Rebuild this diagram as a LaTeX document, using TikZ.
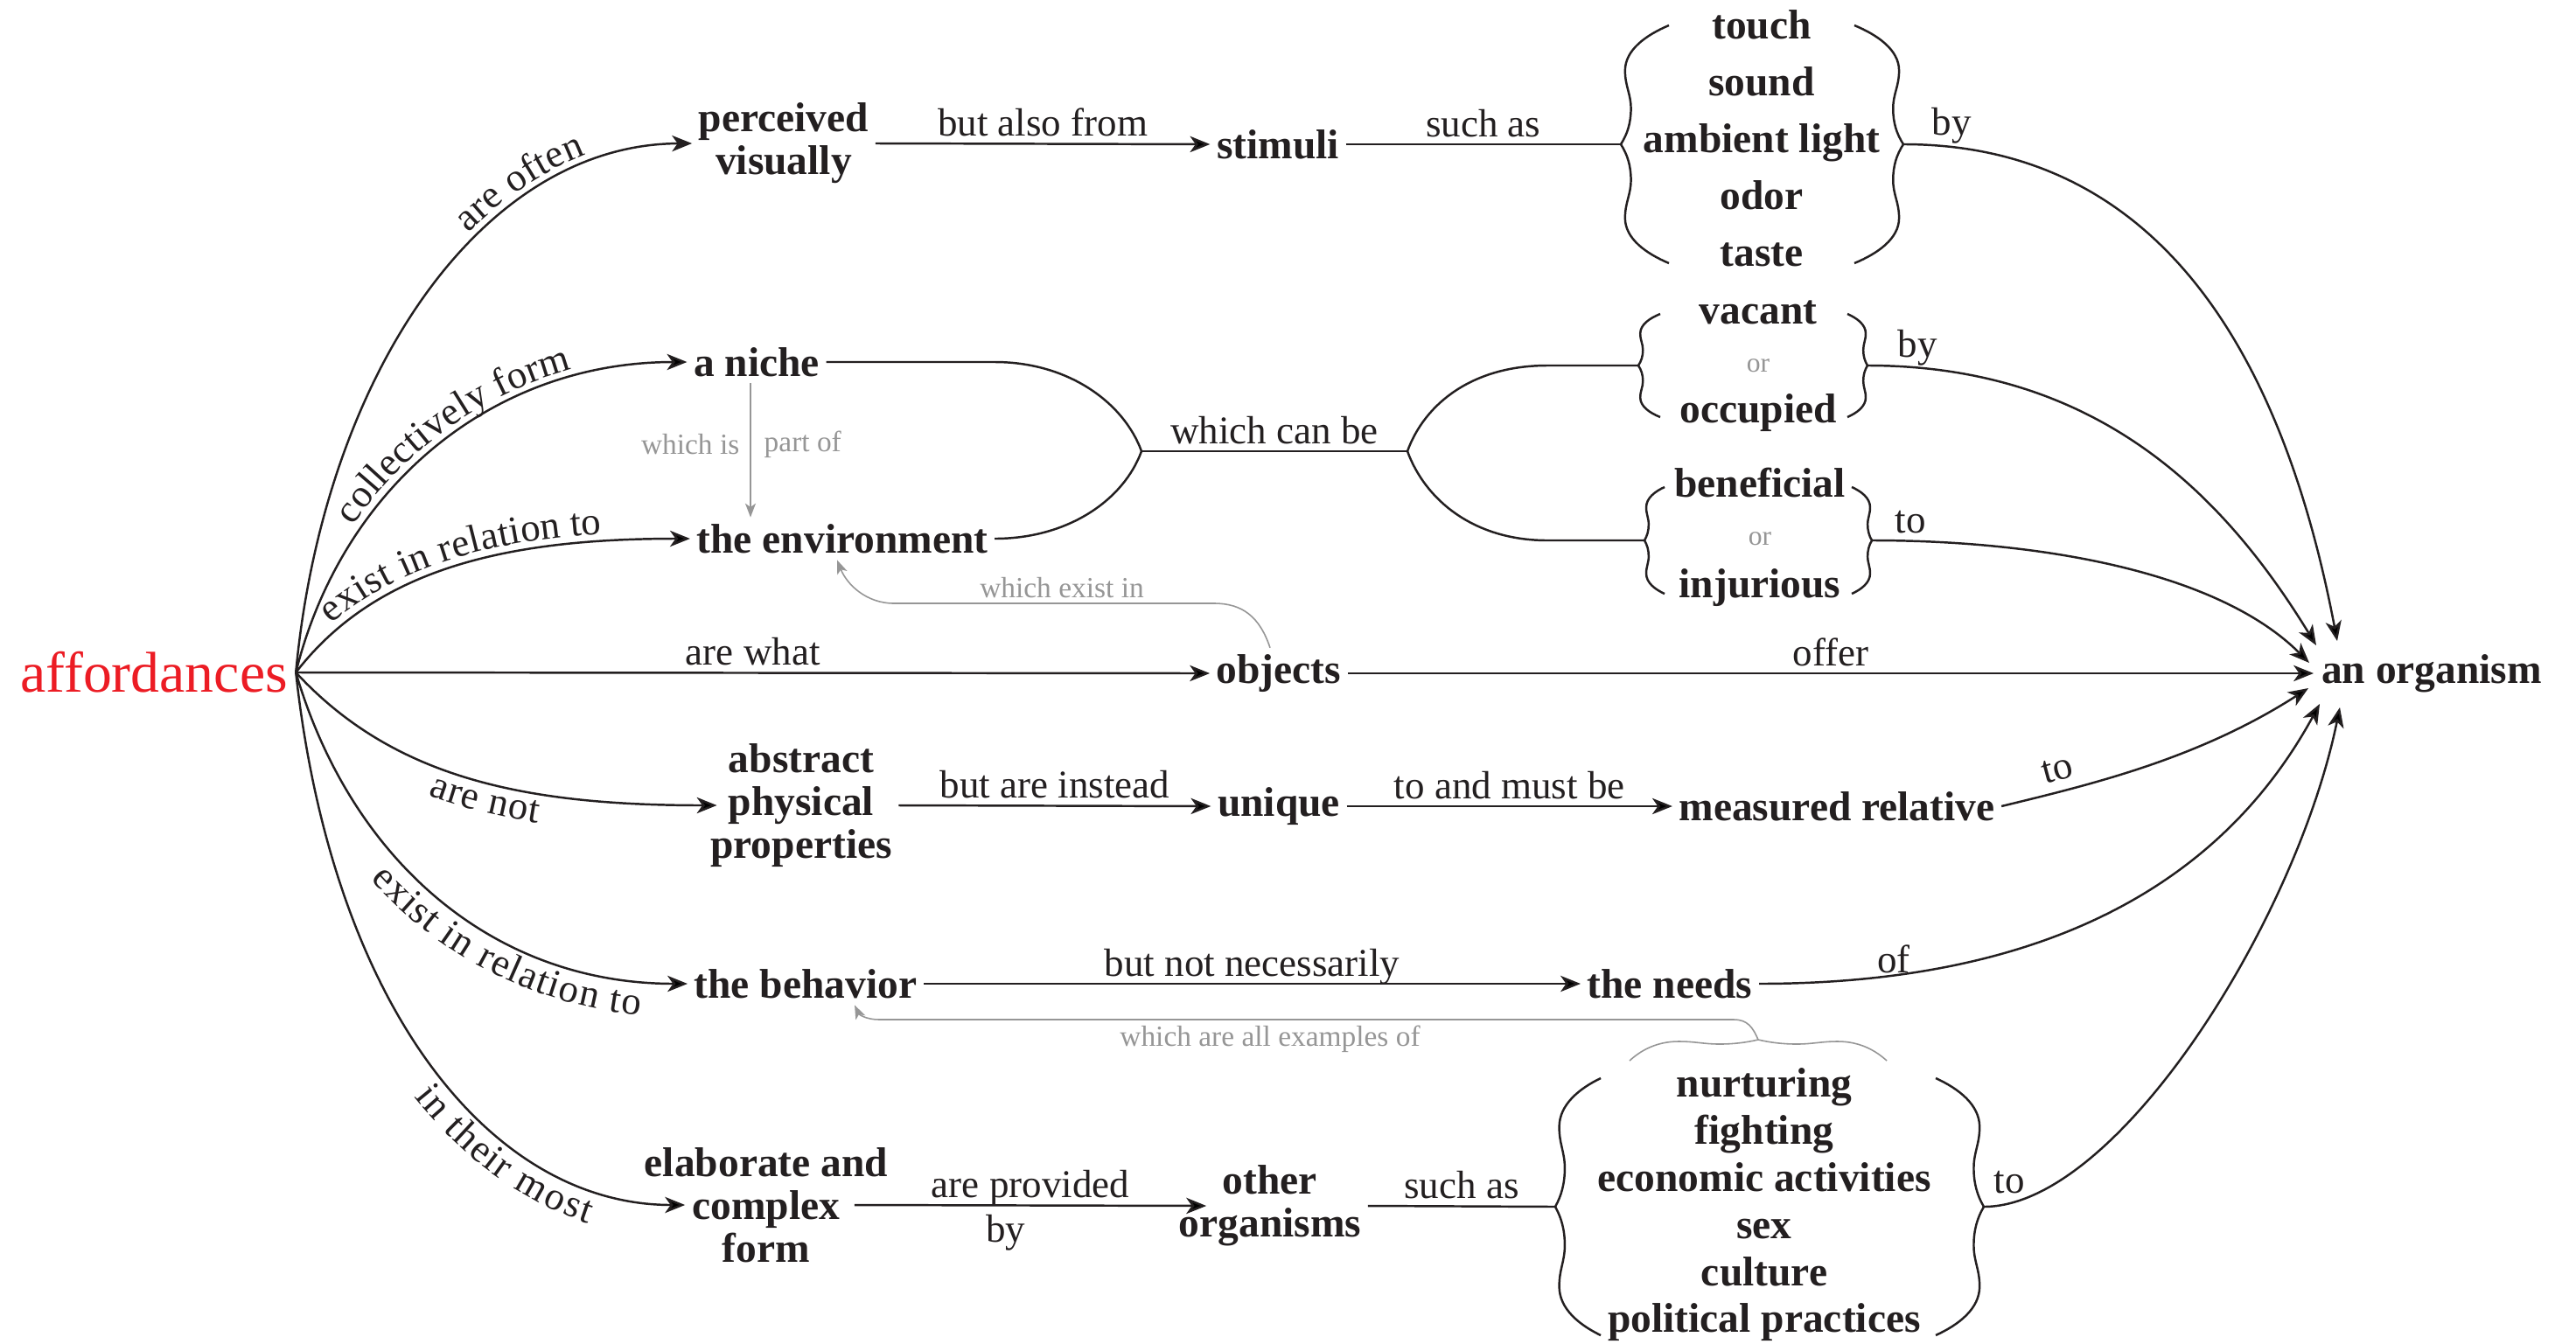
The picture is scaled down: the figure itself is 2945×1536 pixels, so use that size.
\documentclass[tikz,border=0pt]{standalone}
\usepackage{fontspec}
\setmainfont{Liberation Serif}
\usetikzlibrary{arrows.meta,decorations.text}

\definecolor{ink}{RGB}{35,31,32}
\definecolor{softgray}{RGB}{150,150,150}
\definecolor{keyred}{RGB}{236,28,36}

\newcommand\lblfont{\fontsize{12.8}{14}\selectfont}
\newcommand\conceptfont{\fontsize{13.5}{14}\selectfont\bfseries}

% one half of a curly brace: tip at (#1,#2), depth #3 (negative opens leftwards), half height #4 (negative = lower half)
\newcommand\halfbrace[4]{%
  \draw[bracestroke, shift={(#1,#2)}, xscale=#3, yscale=#4]
    (0,0) .. controls (0.14,-0.088) and (0.21,-0.184) .. (0.21,-0.30)
          .. controls (0.21,-0.426) and (0.088,-0.485) .. (0.088,-0.62)
          .. controls (0.088,-0.794) and (0.526,-0.919) .. (1,-1);}
\newcommand\curlybrace[4]{\halfbrace{#1}{#2}{#3}{#4}\halfbrace{#1}{#2}{#3}{-#4}}

\begin{document}
\begin{tikzpicture}[x=0.01cm, y=-0.01cm,
  inkline/.style={draw=ink, line width=0.7pt},
  bracestroke/.style={inkline},
  arrowline/.style={inkline, -{Stealth[length=6.5pt,width=5.2pt,inset=1.8pt]}},
  faintarrow/.style={draw=softgray, line width=0.45pt, -{Stealth[length=4.5pt,width=3.4pt,inset=1.2pt]}},
  faintline/.style={draw=softgray, line width=0.45pt},
  concept/.style={font=\conceptfont, text=ink, inner sep=2pt, align=center},
  listitem/.style={font=\conceptfont, text=ink, inner sep=0pt, anchor=base},
  orword/.style={font=\fontsize{9}{10}\selectfont, text=softgray, inner sep=0pt, anchor=base},
  linklabel/.style={font=\lblfont, text=ink, inner sep=0pt, anchor=base, yshift=2.5pt},
  linklabelbelow/.style={font=\lblfont, text=ink, inner sep=0pt, anchor=base, yshift=-12pt},
  sidelabel/.style={font=\lblfont, text=ink, inner sep=0pt},
  graynote/.style={font=\fontsize{9.5}{11}\selectfont, text=softgray, inner sep=0pt},
]
\path[use as bounding box, fill=white] (0,0) rectangle (2945,1536);

% ---------- concepts ----------
\node[font=\fontsize{18.7}{20}\selectfont, text=keyred, inner sep=0pt, inner xsep=2.5pt] (aff) at (176,769) {affordances};
\node[concept] (perc) at (896,164) {perceived\\visually};
\node[concept] (stim) at (1461,165) {stimuli};
\node[concept, font=\fontsize{13.5}{18.5}\selectfont\bfseries] (senses) at (2014,158) {touch\\sound\\ambient light\\odor\\taste};
\node[listitem] (vac) at (2010,370) {vacant};
\node[orword] (or1) at (2010,425) {or};
\node[listitem] (occ) at (2010,483) {occupied};
\node[listitem] (ben) at (2012,568) {beneficial};
\node[orword] (or2) at (2012,623) {or};
\node[listitem] (inj) at (2012,683) {injurious};
\node[concept] (niche) at (865,414) {a niche};
\node[concept] (env) at (963,616) {the environment};
\node[concept] (obj) at (1462,770) {objects};
\node[concept] (org) at (2780,770) {an organism};
\node[concept] (abs) at (916,921) {abstract\\physical\\properties};
\node[concept] (uniq) at (1462,922) {unique};
\node[concept] (meas) at (2100,922) {measured relative};
\node[concept] (behav) at (921,1125) {the behavior};
\node[concept] (needs) at (1909,1125) {the needs};
\node[concept] (elab) at (876,1378) {elaborate and\\complex\\form};
\node[concept] (other) at (1452,1379) {other\\organisms};
\node[concept, font=\fontsize{13.5}{15.3}\selectfont\bfseries] (acts) at (2017,1378) {nurturing\\fighting\\economic activities\\sex\\culture\\political practices};

% ---------- brace tips, fork points and arrival points ----------
\coordinate (b1l) at (1853,165); \coordinate (b1r) at (2176,165);
\coordinate (b2l) at (1873,418); \coordinate (b2r) at (2135,418);
\coordinate (b3l) at (1880,618); \coordinate (b3r) at (2140,618);
\coordinate (b4l) at (1778,1380); \coordinate (b4r) at (2268,1380);
\coordinate (join) at (1305,516); \coordinate (split) at (1609,516);
\coordinate (in1) at (2672,733); \coordinate (in2) at (2648,738);
\coordinate (in3) at (2640,758); \coordinate (in4) at (2645,770);
\coordinate (in5) at (2639,787); \coordinate (in6) at (2652,805);
\coordinate (in7) at (2675,809);
\coordinate (gtip) at (2010,1189);

% ---------- braces ----------
\curlybrace{1853}{165}{55}{136}
\curlybrace{2176}{165}{-56}{136}
\curlybrace{1873}{418}{25}{59}
\curlybrace{2135}{418}{-23}{59}
\curlybrace{1880}{618}{23}{61}
\curlybrace{2140}{618}{-23}{61}
\curlybrace{1778}{1380}{52}{147}
\curlybrace{2268}{1380}{-55}{147}

% ---------- links leaving "affordances" ----------
\draw[arrowline] (aff.east) .. controls (370,430) and (550,165) .. (perc.west);
\path[decorate, decoration={text along path, text color=ink, text={|\lblfont|are often}, text align={right, right indent=1.2cm}, raise=3pt}]
  (aff.east) .. controls (370,430) and (550,165) .. (perc.west);

\draw[arrowline] (aff.east) .. controls (390,560) and (560,414) .. (niche.west);
\path[decorate, decoration={text along path, text color=ink, text={|\lblfont|collectively form}, text align={right, right indent=1.3cm}, raise=2.5pt}]
  (aff.east) .. controls (390,560) and (560,414) .. (niche.west);

\draw[arrowline] (aff.east) .. controls (430,650) and (580,616) .. (env.west);
\path[decorate, decoration={text along path, text color=ink, text={|\lblfont|exist in relation to}, text align={right, right indent=1.0cm}, raise=2.5pt}]
  (aff.east) .. controls (430,650) and (580,616) .. (env.west);

\draw[arrowline] (aff.east) -- node[linklabel, midway] {are what} (obj.west);

\draw[arrowline] (aff.east) .. controls (450,890) and (600,921) .. ([xshift=0.15cm]abs.west);
\path[decorate, decoration={text along path, text color=ink, text={|\lblfont|are not}, text align={right, right indent=2.0cm}, raise=-9.5pt}]
  (aff.east) .. controls (450,890) and (600,921) .. ([xshift=0.15cm]abs.west);

\draw[arrowline] (aff.east) .. controls (400,980) and (560,1125) .. (behav.west);
\path[decorate, decoration={text along path, text color=ink, text={|\lblfont|exist in relation to}, text align={right, right indent=0.5cm}, raise=-11pt}]
  (aff.east) .. controls (400,980) and (560,1125) .. (behav.west);

\draw[arrowline] (aff.east) .. controls (380,1150) and (560,1378) .. ([xshift=0.54cm]elab.west);
\path[decorate, decoration={text along path, text color=ink, text={|\lblfont|in their most}, text align={right, right indent=1.0cm}, raise=-11pt}]
  (aff.east) .. controls (380,1150) and (560,1378) .. ([xshift=0.54cm]elab.west);

% ---------- first row ----------
\draw[arrowline] (perc.east) -- node[linklabel, midway] {but also from} (stim.west);
\draw[inkline] (stim.east) -- node[linklabel, midway] {such as} (b1l);
\draw[arrowline] (b1r) .. controls (2500,165) and (2620,460) .. (in1);
\node[sidelabel] (by1) at (2231,144) {by};

% ---------- niche / environment fork ----------
\draw[inkline] (niche.east) -- (niche.east -| env.east) .. controls +(85,0) and +(-20,-55) .. (join);
\draw[inkline] (env.east) .. controls +(85,0) and +(-20,55) .. (join);
\draw[inkline] (join) -- node[linklabel, midway] {which can be} (split);
\draw[inkline] (split) .. controls +(20,-55) and +(-85,0) .. ++(160,-98) -- (b2l);
\draw[inkline] (split) .. controls +(20,55) and +(-85,0) .. ++(160,102) -- (b3l);
\draw[arrowline] (b2r) .. controls (2400,418) and (2544,568) .. (in2);
\draw[arrowline] (b3r) .. controls (2330,618) and (2535,653) .. (in3);
\node[sidelabel] (by2) at (2192,398) {by};
\node[sidelabel] (to1) at (2184,597) {to};

% ---------- objects ----------
\draw[arrowline] (obj.east) -- node[linklabel, midway] {offer} (in4);

% ---------- properties row ----------
\draw[arrowline] (abs.east) -- node[linklabel, midway] {but are instead} (uniq.west);
\draw[arrowline] (uniq.east) -- node[linklabel, midway] {to and must be} (meas.west);
\draw[arrowline] (meas.east) .. controls (2391,897) and (2513,868) .. (in5);
\node[sidelabel, rotate=15] (to2) at (2352,880) {to};

% ---------- behavior row ----------
\draw[arrowline] (behav.east) -- node[linklabel, midway] {but not necessarily} (needs.west);
\draw[arrowline] (needs.east) .. controls (2400,1125) and (2566,963) .. (in6);
\node[sidelabel] (of1) at (2165,1097) {of};

% ---------- other organisms row ----------
\draw[arrowline] ([xshift=-0.46cm]elab.east) -- node[linklabel, midway] {are provided} node[linklabelbelow, pos=0.43] {by} ([xshift=0.39cm]other.west);
\draw[inkline] (other.east) -- node[linklabel, midway] {such as} (b4l);
\draw[arrowline] (b4r) .. controls (2420,1380) and (2625,1054) .. (in7);
\node[sidelabel] (to3) at (2297,1352) {to};

% ---------- gray cross references ----------
\coordinate (nichefoot) at ([xshift=-0.07cm]niche.south);
\draw[faintarrow] (nichefoot) -- (nichefoot |- env.north);
\node[graynote, anchor=east] (whichis) at (846,508) {which is};
\node[graynote, anchor=west] (partof) at (873,508) {part of};

\draw[faintarrow] ([xshift=-0.1cm]obj.north) .. controls (1440,705) and (1420,690) .. (1388,690)
  -- (1022,690) .. controls (990,690) and (968,668) .. ([xshift=-0.06cm]env.south);
\node[graynote] (existin) at (1214,672) {which exist in};

\draw[faintline] (gtip) .. controls (1997,1192) and (1983,1194) .. (1966,1194)
  .. controls (1947,1194) and (1939,1191) .. (1919,1191)
  .. controls (1893,1191) and (1875,1202) .. (1863,1213);
\draw[faintline] (gtip) .. controls (2023,1192) and (2037,1194) .. (2054,1194)
  .. controls (2073,1194) and (2081,1191) .. (2101,1191)
  .. controls (2127,1191) and (2145,1202) .. (2157,1213);
\draw[faintarrow] (gtip) .. controls (2004,1175) and (1998,1166) .. (1982,1166)
  -- (1005,1166) .. controls (990,1166) and (982,1160) .. ([xshift=0.56cm]behav.south);
\node[graynote] (examples) at (1452,1188) {which are all examples of};

\end{tikzpicture}
\end{document}
